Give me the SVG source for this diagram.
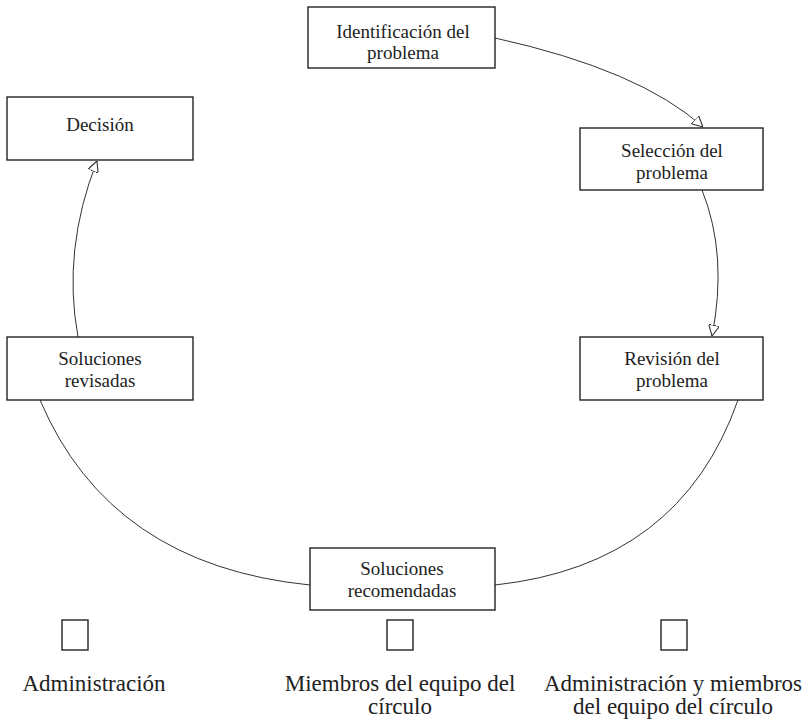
<svg xmlns="http://www.w3.org/2000/svg" width="812" height="721" viewBox="0 0 812 721">
  <style>
    .box { fill: #fff; stroke: #222; stroke-width: 1.4; }
    .lbl { font-family: 'Liberation Serif', 'DejaVu Serif', 'Times New Roman', serif; font-size: 19px; fill: #222; text-anchor: middle; }
    .leg { font-family: 'Liberation Serif', 'DejaVu Serif', 'Times New Roman', serif; font-size: 23px; fill: #222; text-anchor: middle; }
    .edge { fill: none; stroke: #333; stroke-width: 1; }
  </style>
  <defs>
    <marker id="arrow" viewBox="0 0 10 10" refX="10" refY="5" markerWidth="11" markerHeight="11" markerUnits="userSpaceOnUse" orient="auto">
      <path d="M0,0 L10,5 L0,10 Z" fill="#fff" stroke="#333" stroke-width="1"/>
    </marker>
  </defs>

  <g id="connectors">
    <path class="edge" d="M495,38 Q640,70 703,127" marker-end="url(#arrow)"/>
    <path class="edge" d="M702,190 Q728,255 712,336" marker-end="url(#arrow)"/>
    <path class="edge" d="M738,400 Q680,565 495,585"/>
    <path class="edge" d="M310,585 Q110,565 40,400"/>
    <path class="edge" d="M78,337 Q62,250 97,161" marker-end="url(#arrow)"/>
  </g>

  <g id="identificacion">
    <rect class="box" x="308" y="7" width="187" height="61"/>
    <text class="lbl" x="403" y="38">Identificación del</text>
    <text class="lbl" x="403" y="59">problema</text>
  </g>
  <g id="seleccion">
    <rect class="box" x="580" y="128" width="183" height="62"/>
    <text class="lbl" x="672" y="157">Selección del</text>
    <text class="lbl" x="672" y="179">problema</text>
  </g>
  <g id="decision">
    <rect class="box" x="7" y="97" width="186" height="63"/>
    <text class="lbl" x="100" y="131">Decisión</text>
  </g>
  <g id="revision">
    <rect class="box" x="580" y="337" width="183" height="63"/>
    <text class="lbl" x="672" y="365">Revisión del</text>
    <text class="lbl" x="672" y="387">problema</text>
  </g>
  <g id="revisadas">
    <rect class="box" x="7" y="337" width="186" height="63"/>
    <text class="lbl" x="100" y="365">Soluciones</text>
    <text class="lbl" x="100" y="387">revisadas</text>
  </g>
  <g id="recomendadas">
    <rect class="box" x="310" y="548" width="185" height="62"/>
    <text class="lbl" x="402" y="575">Soluciones</text>
    <text class="lbl" x="402" y="597">recomendadas</text>
  </g>

  <g id="legend">
    <rect class="box" x="62" y="620" width="26" height="30"/>
    <rect class="box" x="387" y="620" width="26" height="30"/>
    <rect class="box" x="661" y="620" width="26" height="30"/>
    <text class="leg" x="94" y="691">Administración</text>
    <text class="leg" x="400" y="691">Miembros del equipo del</text>
    <text class="leg" x="400" y="714">círculo</text>
    <text class="leg" x="673" y="691">Administración y miembros</text>
    <text class="leg" x="673" y="714">del equipo del círculo</text>
  </g>
</svg>
